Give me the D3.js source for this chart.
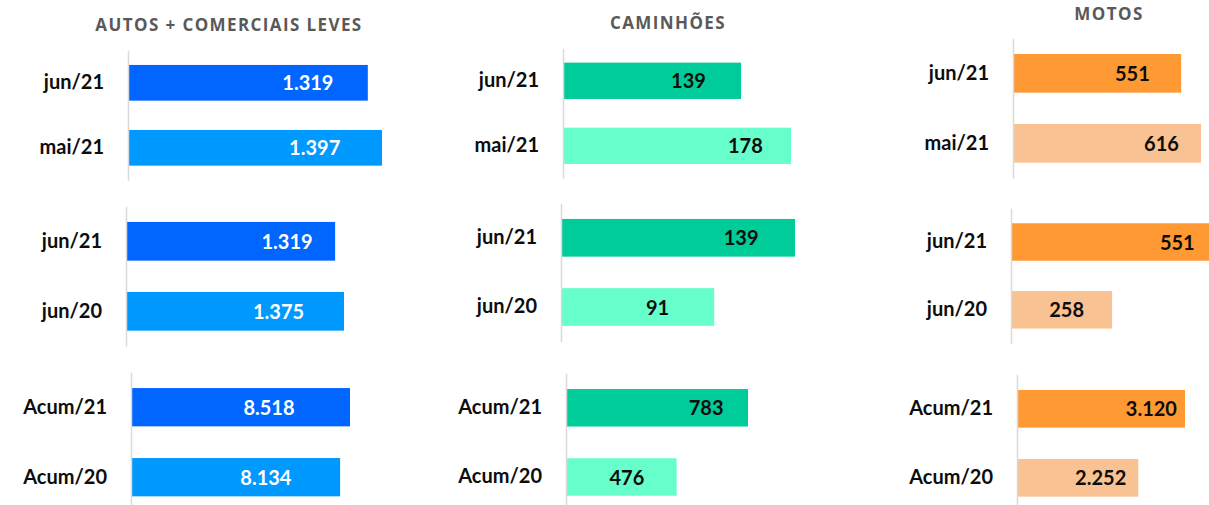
<!DOCTYPE html>
<html>
<head>
<meta charset="utf-8">
<script src="https://cdn.jsdelivr.net/npm/d3@7"></script>
<style>
  html, body { margin: 0; padding: 0; background: #fff; }
  svg { display: block; }
</style>
</head>
<body>
<div id="chart"></div>
<script>
// data
const groupTitles = ['AUTOS + COMERCIAIS LEVES', 'CAMINHÕES', 'MOTOS'];
const rowLabels = [
    ['jun/21', 'mai/21'],
    ['jun/21', 'jun/20'],
    ['Acum/21', 'Acum/20']
];
const autosValues = [[1319, 1397], [1319, 1375], [8518, 8134]];
const caminhoesValues = [[139, 178], [139, 91], [783, 476]];
const motosValues = [[551, 616], [551, 258], [3120, 2252]];

const width = 1209;
const height = 505;

// per group styling
const groupStyle = [
    { colors: ['#0066FF', '#0099FF'], valueColor: '#ffffff', titleX: 229, titleY: 31 },
    { colors: ['#00CC99', '#66FFCC'], valueColor: '#0d0d0d', titleX: 668, titleY: 29 },
    { colors: ['#FF9933', '#F9C292'], valueColor: '#0d0d0d', titleX: 1109, titleY: 20 }
];

// per panel layout [group][row]: axis x, pixel where the largest bar ends,
// first bar centre, band step, bar thickness, label position along the bar
const panelLayout = [
    [
        { x0: 128, xMax: 382, c: 82.8, step: 65, bh: 35.7, lab: [0.75, 0.735] },
        { x0: 126, xMax: 344, c: 241.3, step: 70, bh: 38.7, lab: [0.77, 0.70] },
        { x0: 131, xMax: 350, c: 407.2, step: 70, bh: 38.3, lab: [0.63, 0.645] }
    ],
    [
        { x0: 563, xMax: 791, c: 80.8, step: 65, bh: 36.3, lab: [0.705, 0.80] },
        { x0: 561, xMax: 795, c: 237.8, step: 69.2, bh: 37.7, lab: [0.77, 0.63] },
        { x0: 566, xMax: 748, c: 407.8, step: 69.2, bh: 37.5, lab: [0.77, 0.55] }
    ],
    [
        { x0: 1013, xMax: 1201, c: 73.3, step: 70, bh: 38.7, lab: [0.71, 0.79] },
        { x0: 1011, xMax: 1227, c: 242, step: 67.8, bh: 37.5, lab: [0.77, 0.55] },
        { x0: 1017, xMax: 1185, c: 408.8, step: 69, bh: 37.7, lab: [0.80, 0.69] }
    ]
];

const allValues = [autosValues, caminhoesValues, motosValues];
const fmt = d3.format(',d');
const ptBR = v => fmt(v).replace(/,/g, '.');

const svg = d3.select('#chart')
    .append('svg')
    .attr('width', width)
    .attr('height', height);

// titles
svg.append('g')
    .selectAll('text')
    .data(groupTitles)
    .enter()
    .append('text')
    .attr('x', (d, i) => groupStyle[i].titleX)
    .attr('y', (d, i) => groupStyle[i].titleY)
    .attr('text-anchor', 'middle')
    .attr('font-family', '"Open Sans", sans-serif')
    .attr('font-weight', 700)
    .attr('font-size', '17px')
    .attr('letter-spacing', '1.4px')
    .attr('fill', '#595959')
    .text(d => d);

allValues.forEach((groupVals, g) => {
    groupVals.forEach((vals, r) => {
        const lay = panelLayout[g][r];
        const labels = rowLabels[r];
        const rows = labels.map((l, i) => ({ label: l, value: vals[i], i }));

        const x = d3.scaleLinear()
            .domain([0, d3.max(vals)])
            .range([lay.x0, lay.xMax]);

        const pad = 1 - lay.bh / lay.step;
        const y = d3.scaleBand()
            .domain(labels)
            .range([lay.c - lay.step / 2, lay.c + 1.5 * lay.step])
            .paddingInner(pad)
            .paddingOuter(pad / 2);

        const panel = svg.append('g');

        // bars
        panel.selectAll('rect')
            .data(rows)
            .enter()
            .append('rect')
            .attr('x', x(0))
            .attr('y', d => y(d.label))
            .attr('width', d => x(d.value) - x(0))
            .attr('height', y.bandwidth())
            .attr('fill', d => groupStyle[g].colors[d.i]);

        // value labels
        panel.selectAll('text.value')
            .data(rows)
            .enter()
            .append('text')
            .attr('class', 'value')
            .attr('x', d => x(0) + (x(d.value) - x(0)) * lay.lab[d.i])
            .attr('y', d => y(d.label) + y.bandwidth() / 2)
            .attr('dy', '0.38em')
            .attr('text-anchor', 'middle')
            .attr('font-family', 'Lato, sans-serif')
            .attr('font-weight', 700)
            .attr('font-size', '20px')
            .attr('fill', groupStyle[g].valueColor)
            .text(d => ptBR(d.value));

        // category axis
        const axis = panel.append('g')
            .attr('transform', `translate(${x(0)},0)`)
            .call(d3.axisLeft(y).tickSize(0).tickPadding(24));
        axis.select('.domain')
            .attr('stroke', '#d9d9d9')
            .attr('stroke-width', 1.5);
        axis.selectAll('.tick text')
            .attr('font-family', 'Lato, sans-serif')
            .attr('font-weight', 700)
            .attr('font-size', '20px')
            .attr('fill', '#0d0d0d');
    });
});
</script>
</body>
</html>
